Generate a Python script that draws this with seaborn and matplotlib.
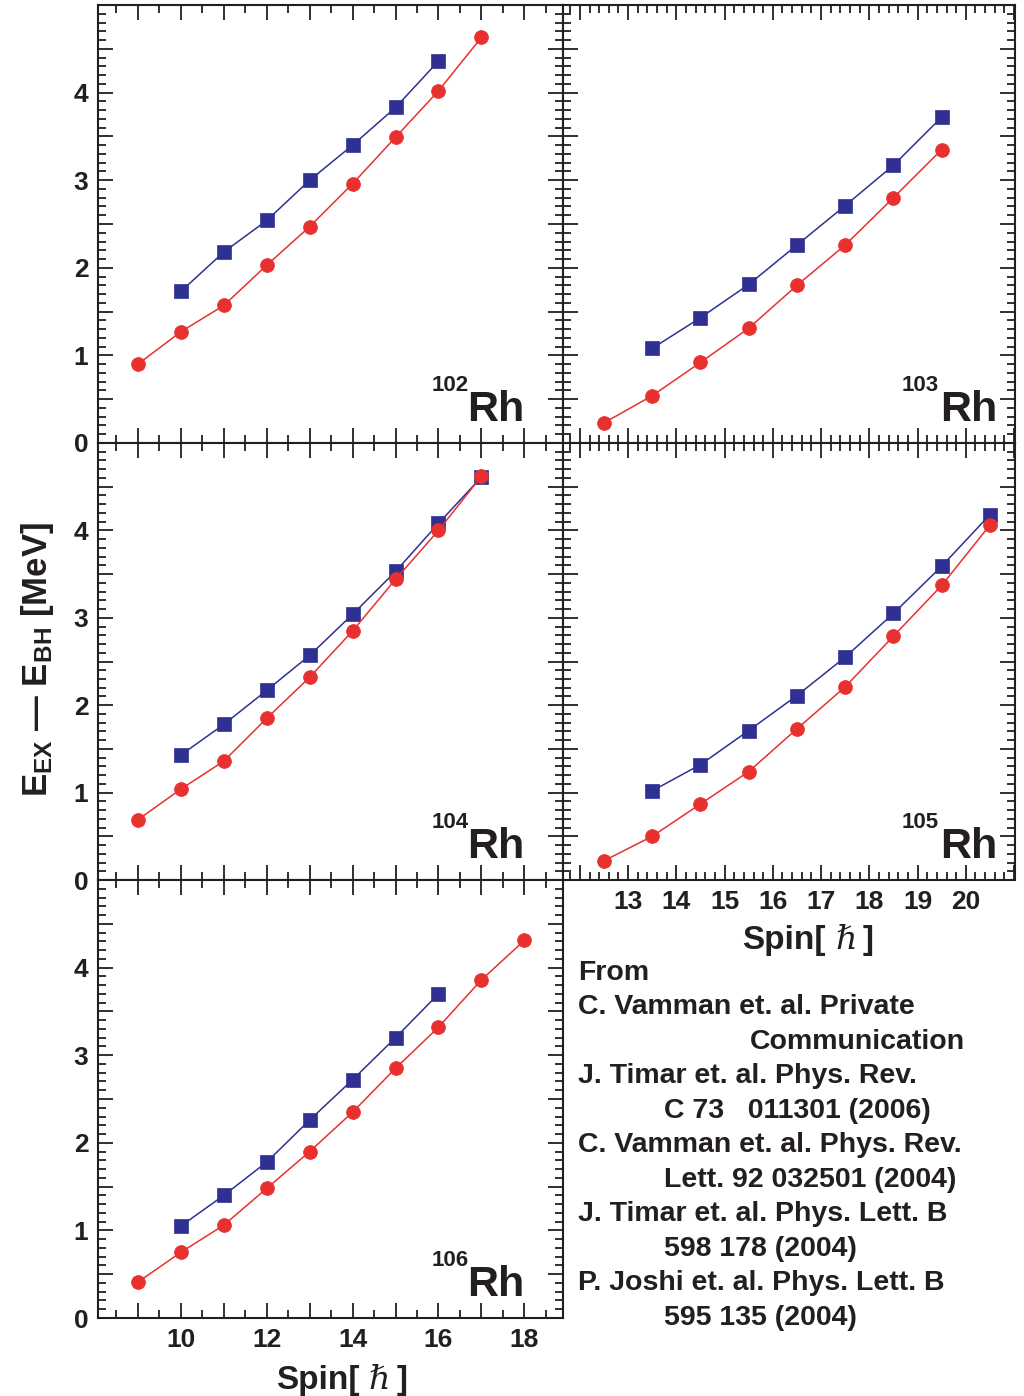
import matplotlib
matplotlib.use("Agg")
import matplotlib.pyplot as plt
from matplotlib.ticker import MultipleLocator, FuncFormatter
import seaborn as sns
import pandas as pd

# ---------------- data ----------------
rh102_spin_red = [9, 10, 11, 12, 13, 14, 15, 16, 17]
rh102_red = [0.90, 1.27, 1.57, 2.03, 2.47, 2.96, 3.49, 4.02, 4.63]
rh102_spin_blue = [10, 11, 12, 13, 14, 15, 16]
rh102_blue = [1.73, 2.18, 2.54, 3.00, 3.40, 3.83, 4.36]

rh103_spin_red = [12.5, 13.5, 14.5, 15.5, 16.5, 17.5, 18.5, 19.5]
rh103_red = [0.23, 0.54, 0.92, 1.31, 1.80, 2.26, 2.80, 3.35]
rh103_spin_blue = [13.5, 14.5, 15.5, 16.5, 17.5, 18.5, 19.5]
rh103_blue = [1.08, 1.43, 1.81, 2.26, 2.71, 3.17, 3.72]

rh104_spin_red = [9, 10, 11, 12, 13, 14, 15, 16, 17]
rh104_red = [0.69, 1.04, 1.36, 1.85, 2.32, 2.85, 3.44, 4.00, 4.62]
rh104_spin_blue = [10, 11, 12, 13, 14, 15, 16, 17]
rh104_blue = [1.43, 1.78, 2.17, 2.57, 3.04, 3.53, 4.08, 4.61]

rh105_spin_red = [12.5, 13.5, 14.5, 15.5, 16.5, 17.5, 18.5, 19.5, 20.5]
rh105_red = [0.22, 0.50, 0.87, 1.24, 1.73, 2.21, 2.79, 3.37, 4.06]
rh105_spin_blue = [13.5, 14.5, 15.5, 16.5, 17.5, 18.5, 19.5, 20.5]
rh105_blue = [1.02, 1.32, 1.71, 2.11, 2.55, 3.05, 3.59, 4.18]

rh106_spin_red = [9, 10, 11, 12, 13, 14, 15, 16, 17, 18]
rh106_red = [0.41, 0.75, 1.06, 1.48, 1.90, 2.35, 2.85, 3.32, 3.86, 4.31]
rh106_spin_blue = [10, 11, 12, 13, 14, 15, 16]
rh106_blue = [1.05, 1.40, 1.78, 2.26, 2.72, 3.20, 3.70]

x_ticks_left = [10, 12, 14, 16, 18]
x_ticks_right = [13, 14, 15, 16, 17, 18, 19, 20]
y_tick_labels = [0, 1, 2, 3, 4]

references = [
    ("From", 578, 973),
    ("C. Vamman et. al. Private", 578, 1007),
    ("Communication", 750, 1042),
    ("J. Timar et. al. Phys. Rev.", 578, 1076),
    ("C 73   011301 (2006)", 664, 1111),
    ("C. Vamman et. al. Phys. Rev.", 578, 1145),
    ("Lett. 92 032501 (2004)", 664, 1180),
    ("J. Timar et. al. Phys. Lett. B", 578, 1214),
    ("598 178 (2004)", 664, 1249),
    ("P. Joshi et. al. Phys. Lett. B", 578, 1283),
    ("595 135 (2004)", 664, 1318),
]

RED = "#E8302F"
BLUE = "#2E3192"
INK = "#231F20"

# ---------------- style ----------------
sns.set_style("ticks")
plt.rcParams["font.family"] = ["Liberation Sans", "DejaVu Sans"]
plt.rcParams["font.weight"] = "bold"
plt.rcParams["mathtext.fontset"] = "custom"
plt.rcParams["mathtext.rm"] = "Liberation Sans:bold"
plt.rcParams["mathtext.bf"] = "Liberation Sans:bold"
plt.rcParams["mathtext.it"] = "Liberation Sans:italic:bold"
plt.rcParams["axes.linewidth"] = 1.5
plt.rcParams["axes.edgecolor"] = INK
plt.rcParams["text.color"] = INK
plt.rcParams["xtick.color"] = INK
plt.rcParams["ytick.color"] = INK

W, H = 1024, 1396
fig = plt.figure(figsize=(W / 100, H / 100), dpi=100)


def px_axes(x0, y0, x1, y1):
    return fig.add_axes([x0 / W, 1 - y1 / H, (x1 - x0) / W, (y1 - y0) / H])


def yfmt(v, pos):
    iv = int(round(v))
    if abs(v - iv) < 1e-6 and iv in y_tick_labels:
        return str(iv)
    return ""


def make_xfmt(allowed):
    def f(v, pos):
        iv = int(round(v))
        if abs(v - iv) < 1e-6 and iv in allowed:
            return str(iv)
        return ""
    return FuncFormatter(f)


def draw_panel(ax, sb, yb, sr, yr, mass, left):
    dfb = pd.DataFrame({"spin": sb, "E": yb})
    dfr = pd.DataFrame({"spin": sr, "E": yr})
    sns.lineplot(data=dfb, x="spin", y="E", ax=ax, color=BLUE, linewidth=1.1,
                 marker="s", markersize=9.6, markeredgecolor=BLUE,
                 markerfacecolor=BLUE, markeredgewidth=0.5)
    sns.lineplot(data=dfr, x="spin", y="E", ax=ax, color=RED, linewidth=1.1,
                 marker="o", markersize=10, markeredgecolor=RED,
                 markerfacecolor=RED, markeredgewidth=0.5)
    ax.set_xlabel("")
    ax.set_ylabel("")
    ax.set_ylim(0, 5)
    ax.yaxis.set_major_locator(MultipleLocator(0.5))
    ax.yaxis.set_minor_locator(MultipleLocator(0.1))
    ax.yaxis.set_major_formatter(FuncFormatter(yfmt))
    if left:
        ax.set_xlim(8.07, 18.9)
        ax.xaxis.set_major_locator(MultipleLocator(1))
        ax.xaxis.set_minor_locator(MultipleLocator(0.5))
        ax.xaxis.set_major_formatter(make_xfmt(x_ticks_left))
        xr, xs = 0.918, 0.797
    else:
        ax.set_xlim(11.65, 21.02)
        ax.xaxis.set_major_locator(MultipleLocator(1))
        ax.xaxis.set_minor_locator(MultipleLocator(0.2))
        ax.xaxis.set_major_formatter(make_xfmt(x_ticks_right))
        xr, xs = 0.960, 0.831
    ax.tick_params(which="both", direction="in", top=True, right=True,
                   width=1.3, labelsize=19, pad=7)
    ax.tick_params(which="major", length=11)
    ax.tick_params(which="minor", length=5.5)
    for lab in ax.get_xticklabels() + ax.get_yticklabels():
        lab.set_fontweight("bold")
    ax.text(xr, 0.05, "Rh", transform=ax.transAxes, ha="right", va="baseline",
            fontsize=31, fontweight="bold")
    ax.text(xs, 0.118, mass, transform=ax.transAxes, ha="right", va="baseline",
            fontsize=16, fontweight="bold")


ax1 = px_axes(98, 5, 563, 443)
ax2 = px_axes(563, 5, 1015, 443)
ax3 = px_axes(98, 443, 563, 880)
ax4 = px_axes(563, 443, 1015, 880)
ax5 = px_axes(98, 880, 563, 1318)

draw_panel(ax1, rh102_spin_blue, rh102_blue, rh102_spin_red, rh102_red, "102", True)
draw_panel(ax2, rh103_spin_blue, rh103_blue, rh103_spin_red, rh103_red, "103", False)
draw_panel(ax3, rh104_spin_blue, rh104_blue, rh104_spin_red, rh104_red, "104", True)
draw_panel(ax4, rh105_spin_blue, rh105_blue, rh105_spin_red, rh105_red, "105", False)
draw_panel(ax5, rh106_spin_blue, rh106_blue, rh106_spin_red, rh106_red, "106", True)

for ax in (ax1, ax2, ax3):
    ax.tick_params(axis="x", labelbottom=False)
for ax in (ax2, ax4):
    ax.tick_params(axis="y", labelleft=False)


def spin_label(x_bracket_end, x_hbar, x_close, y_base):
    fy = 1 - y_base / H
    fig.text(x_bracket_end / W, fy, "Spin[", ha="right", va="baseline",
             fontsize=24, fontweight="bold")
    fig.text(x_hbar / W, fy, "\u210F", ha="center", va="baseline",
             fontsize=24, fontweight="normal", style="italic",
             family=["DejaVu Serif", "DejaVu Sans"])
    fig.text(x_close / W, fy, "]", ha="left", va="baseline",
             fontsize=24, fontweight="bold")


spin_label(360, 379, 397, 1389)
spin_label(826, 846, 863, 949)

fig.text(38 / W, 1 - 660 / H, "E$_{\\rm EX}$ \u2014 E$_{\\rm BH}$ [MeV]",
         rotation=90, ha="center", va="center", fontsize=25, fontweight="bold")

for txt, x, y in references:
    fig.text(x / W, 1 - y / H, txt, ha="left", va="center", fontsize=20.5,
             fontweight="bold")

fig.savefig("out.png", dpi=100, facecolor="white")
